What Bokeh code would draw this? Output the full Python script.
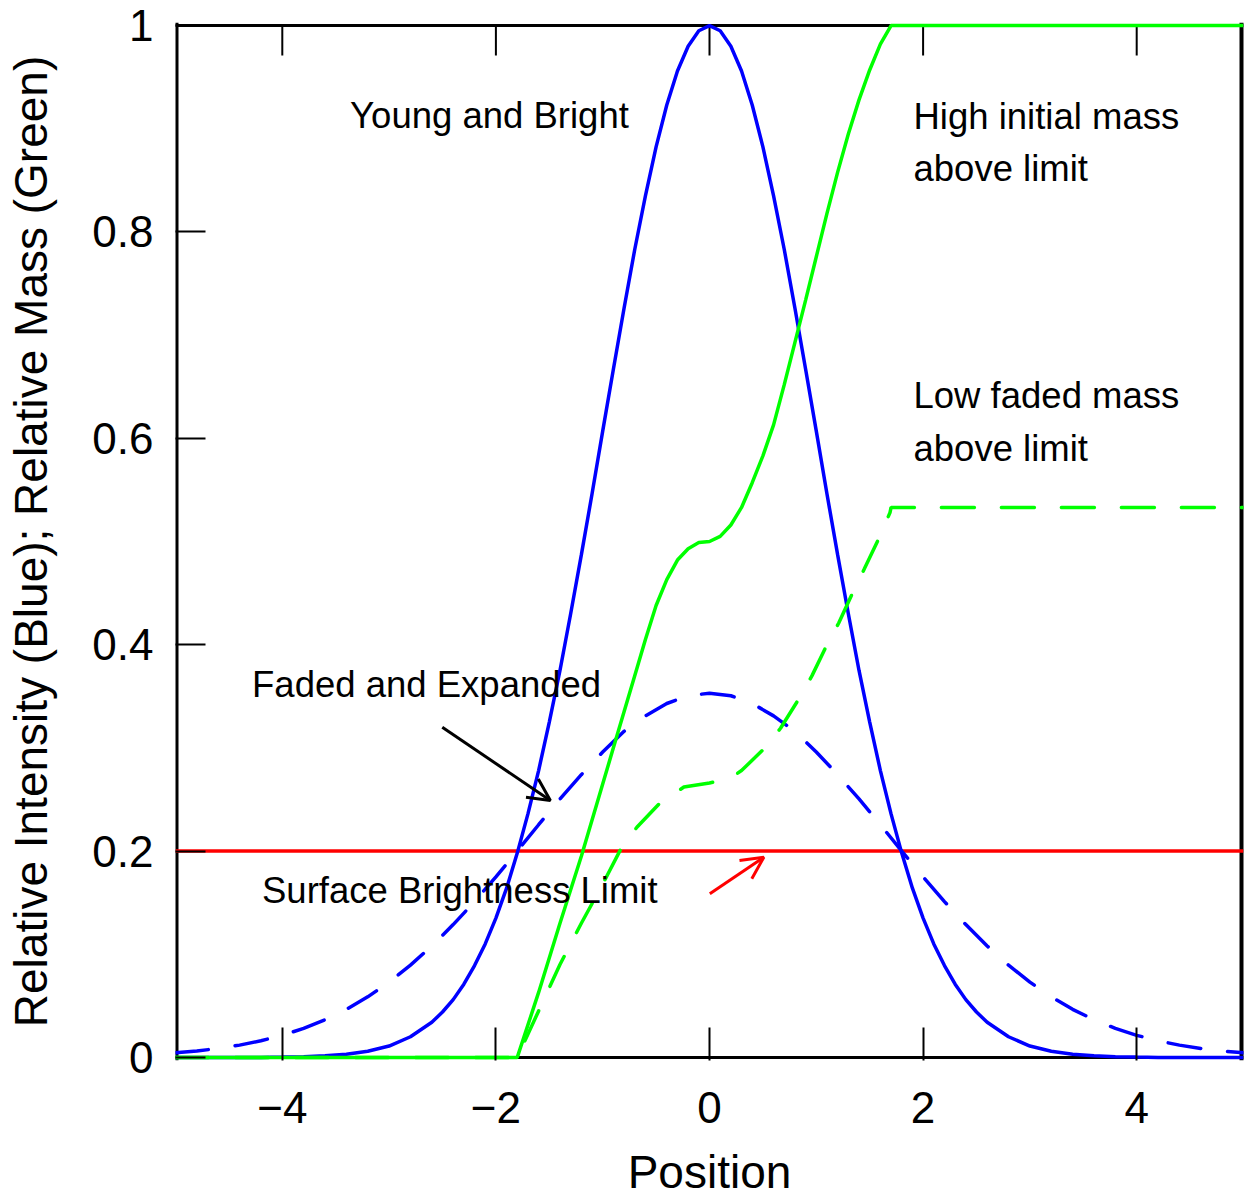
from bokeh.plotting import figure
from bokeh.models import Range1d, FixedTicker, Label, Arrow, OpenHead
from bokeh.embed import file_html
from bokeh.resources import INLINE

# ---- data ----
position = [-5.0, -4.8, -4.6, -4.4, -4.2, -4.0, -3.8, -3.6, -3.4, -3.2, -3.0,
            -2.8, -2.6, -2.5, -2.4, -2.3, -2.2, -2.1, -2.0, -1.9, -1.8, -1.7, -1.6, -1.5,
            -1.4, -1.3, -1.2, -1.1, -1.0, -0.9, -0.8, -0.7, -0.6, -0.5, -0.4, -0.3,
            -0.2, -0.1, 0.0, 0.1, 0.2, 0.3, 0.4, 0.5, 0.6, 0.7, 0.8, 0.9, 1.0,
            1.1, 1.2, 1.3, 1.4, 1.5, 1.6, 1.7, 1.8, 1.9, 2.0, 2.1, 2.2, 2.3, 2.4, 2.5,
            2.6, 2.8, 3.0, 3.2, 3.4, 3.6, 3.8, 4.0, 4.2, 4.4, 4.6, 4.8, 5.0]

young_bright = [0.000, 0.000, 0.000, 0.000, 0.000, 0.0003, 0.0007, 0.0015, 0.003, 0.006, 0.011,
                0.020, 0.034, 0.044, 0.056, 0.071, 0.089, 0.110, 0.135, 0.164, 0.198, 0.236, 0.278, 0.325,
                0.375, 0.430, 0.487, 0.546, 0.607, 0.667, 0.726, 0.783, 0.835, 0.8825, 0.923, 0.956,
                0.980, 0.995, 1.000, 0.995, 0.980, 0.956, 0.923, 0.8825, 0.835, 0.783, 0.726, 0.667, 0.607,
                0.546, 0.487, 0.430, 0.375, 0.325, 0.278, 0.236, 0.198, 0.164, 0.135, 0.110, 0.089, 0.071, 0.056, 0.044,
                0.034, 0.020, 0.011, 0.006, 0.003, 0.0015, 0.0007, 0.0003, 0.000, 0.000, 0.000, 0.000, 0.000]

faded_x = [-5.0, -4.8, -4.6, -4.4, -4.2, -4.0, -3.8, -3.6, -3.4, -3.2, -3.0,
           -2.8, -2.6, -2.4, -2.2, -2.0, -1.8, -1.6, -1.4, -1.2, -1.0,
           -0.8, -0.6, -0.4, -0.2, 0.0, 0.2, 0.4, 0.6, 0.8, 1.0,
           1.2, 1.4, 1.6, 1.8, 2.0, 2.2, 2.4, 2.6, 2.8, 3.0,
           3.2, 3.4, 3.6, 3.8, 4.0, 4.2, 4.4, 4.6, 4.8, 5.0]
faded_expanded = [0.0044, 0.0062, 0.0087, 0.0119, 0.0161, 0.0214, 0.0281, 0.0365, 0.0466, 0.0587, 0.073,
                  0.0894, 0.108, 0.1287, 0.151, 0.175, 0.200, 0.2255, 0.2505, 0.274, 0.296,
                  0.316, 0.331, 0.343, 0.3505, 0.353, 0.3505, 0.343, 0.331, 0.316, 0.296,
                  0.274, 0.2505, 0.2255, 0.200, 0.175, 0.151, 0.1287, 0.108, 0.0894, 0.073,
                  0.0587, 0.0466, 0.0365, 0.0281, 0.0214, 0.0161, 0.0119, 0.0087, 0.0062, 0.0044]

mass_x = [-5.0, -1.8, -1.6, -1.4, -1.2, -1.0, -0.9, -0.8, -0.7, -0.6, -0.5, -0.4, -0.3,
          -0.2, -0.1, 0.0, 0.1, 0.2, 0.3, 0.4, 0.5, 0.6, 0.7, 0.8, 0.9, 1.0, 1.1, 1.2,
          1.3, 1.4, 1.5, 1.6, 1.7, 5.0]
high_mass = [0.0, 0.0, 0.063, 0.13, 0.195, 0.265, 0.300, 0.335, 0.370, 0.405, 0.438, 0.463, 0.482,
             0.493, 0.499, 0.500, 0.505, 0.516, 0.533, 0.557, 0.583, 0.613, 0.652, 0.693, 0.734,
             0.776, 0.818, 0.858, 0.895, 0.928, 0.957, 0.982, 1.0, 1.0]

low_x = [-5.0, -1.8, -1.6, -1.4, -1.2, -1.0, -0.83, -0.68, -0.46, -0.24, 0.0, 0.2, 0.3,
         0.51, 0.665, 0.84, 0.96, 1.10, 1.21, 1.35, 1.45, 1.59, 1.69, 1.70, 5.0]
low_mass = [0.0, 0.0, 0.045, 0.09, 0.13, 0.168, 0.202, 0.223, 0.247, 0.262, 0.266, 0.271, 0.278,
            0.299, 0.319, 0.348, 0.370, 0.400, 0.421, 0.4525, 0.4735, 0.504, 0.528, 0.533, 0.533]

limit_x = [-5.0, 5.0]
limit_y = [0.2, 0.2]

x_ticks = [-4, -2, 0, 2, 4]
x_tick_labels = {-4: "\u22124", -2: "\u22122", 0: "0", 2: "2", 4: "4"}
y_ticks = [0, 0.2, 0.4, 0.6, 0.8, 1]
y_tick_labels = {0: "0", 0.2: "0.2", 0.4: "0.4", 0.6: "0.6", 0.8: "0.8", 1: "1"}

FONT = "Liberation Sans"

p = figure(frame_width=1068, frame_height=1038,
           x_range=Range1d(-5, 5), y_range=Range1d(-0.003, 1.003),
           output_backend="svg", toolbar_location=None,
           min_border_left=175, min_border_right=4, min_border_top=22, min_border_bottom=139,
           background_fill_color="white", border_fill_color="white")
p.grid.visible = False
p.outline_line_color = None

xa = p.xaxis[0]
xa.ticker = FixedTicker(ticks=x_ticks)
xa.major_label_overrides = x_tick_labels
xa.major_tick_in = 33
xa.major_tick_out = 0
xa.minor_tick_in = 0
xa.minor_tick_out = 0
xa.major_tick_line_width = 2
xa.axis_line_color = None
xa.major_label_text_font = FONT
xa.major_label_text_font_size = "44px"
xa.major_label_text_color = "black"
xa.major_label_standoff = 31
xa.axis_label = "Position"
xa.axis_label_text_font = FONT
xa.axis_label_text_font_size = "46px"
xa.axis_label_text_font_style = "normal"
xa.axis_label_text_color = "black"
xa.axis_label_standoff = 20

ya = p.yaxis[0]
ya.ticker = FixedTicker(ticks=y_ticks)
ya.major_label_overrides = y_tick_labels
ya.major_tick_in = 30
ya.major_tick_out = 0
ya.minor_tick_in = 0
ya.minor_tick_out = 0
ya.major_tick_line_width = 2
ya.axis_line_color = None
ya.major_label_text_font = FONT
ya.major_label_text_font_size = "44px"
ya.major_label_text_color = "black"
ya.major_label_standoff = 22
ya.axis_label = "Relative Intensity (Blue); Relative Mass (Green)"
ya.axis_label_text_font = FONT
ya.axis_label_text_font_size = "46px"
ya.axis_label_text_font_style = "normal"
ya.axis_label_text_color = "black"
ya.axis_label_standoff = 32

# frame box and top ticks
p.line([-5, 5], [0, 0], line_color="black", line_width=3)
p.line([-5, 5], [1, 1], line_color="black", line_width=3)
p.line([-5, -5], [-0.003, 1.003], line_color="black", line_width=6)
p.line([5, 5], [-0.003, 1.003], line_color="black", line_width=8)
p.segment(x0=x_ticks, y0=[1] * len(x_ticks), x1=x_ticks, y1=[0.971] * len(x_ticks),
          line_color="black", line_width=2)

# curves
p.line(limit_x, limit_y, line_color="#ff0000", line_width=3.5)
p.line(position, young_bright, line_color="#0000ff", line_width=3.5)
p.line(faded_x, faded_expanded, line_color="#0000ff", line_width=3.5,
       line_dash="33 27", line_cap="round")
p.line(mass_x, high_mass, line_color="#00ff00", line_width=3.5)
p.line(low_x, low_mass, line_color="#00ff00", line_width=3.5,
       line_dash="33 27", line_cap="round")

# annotations
notes = [
    (-3.365, 0.9126, "Young and Bright"),
    (1.91, 0.9116, "High initial mass"),
    (1.91, 0.8616, "above limit"),
    (1.91, 0.6416, "Low faded mass"),
    (1.91, 0.5906, "above limit"),
    (-4.283, 0.3616, "Faded and Expanded"),
    (-4.19, 0.1616, "Surface Brightness Limit"),
]
for nx, ny, t in notes:
    p.add_layout(Label(x=nx, y=ny, text=t, text_font=FONT, text_font_size="36.5px",
                       text_color="black", text_baseline="alphabetic", text_align="left"))

p.add_layout(Arrow(end=OpenHead(size=22, line_width=3, line_color="black"),
                   x_start=-2.502, y_start=0.320, x_end=-1.490, y_end=0.249,
                   line_width=3, line_color="black"))
p.add_layout(Arrow(end=OpenHead(size=22, line_width=3, line_color="#ff0000"),
                   x_start=0.003, y_start=0.1586, x_end=0.509, y_end=0.194,
                   line_width=3, line_color="#ff0000"))

open("out.html", "w").write(file_html(p, INLINE))
